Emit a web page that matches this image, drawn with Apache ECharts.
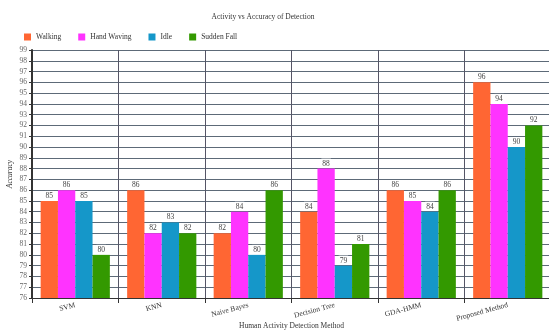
<!DOCTYPE html>
<html><head><meta charset="utf-8">
<script src="https://cdn.jsdelivr.net/npm/echarts@6/dist/echarts.min.js"></script>
<style>html,body{margin:0;padding:0;background:#fff}#c{width:549px;height:335px}</style>
</head><body><div id="c"></div>
<script>
const categories = ['SVM','KNN','Naive Bayes','Decision Tree','GDA-HMM','Proposed Method'];
const walking = [85,86,82,84,86,96];
const handWaving = [86,82,84,88,85,94];
const idle = [85,83,80,79,84,90];
const suddenFall = [80,82,86,81,86,92];
const seriesNames = ['Walking','Hand Waving','Idle','Sudden Fall'];
const colors = ['#ff6633','#ff33ff','#1597c9','#339900'];
const F = '"Liberation Serif", "DejaVu Serif", serif';
const chart = echarts.init(document.getElementById('c'));
const data = [walking, handWaving, idle, suddenFall];
chart.setOption({
  animation:false,
  title:{text:'Activity vs Accuracy of Detection',left:258,textAlign:'center',top:8,textStyle:{fontFamily:F,fontSize:7.5,fontWeight:'normal',color:'#333'}},
  legend:{left:19,top:28,itemWidth:7,itemHeight:7,itemGap:17,icon:'rect',textStyle:{fontFamily:F,fontSize:7.5,color:'#333'},data:seriesNames},
  grid:{left:32,right:-2,top:50,bottom:37,outerBoundsMode:'none'},
  xAxis:{type:'category',data:categories,name:'Human Activity Detection Method',nameLocation:'middle',nameGap:24,nameMoveOverlap:false,
    nameTextStyle:{fontFamily:F,fontSize:7.5,color:'#333'},
    axisLine:{lineStyle:{color:'#333'}},axisTick:{show:true,alignWithLabel:false,lineStyle:{color:'#333'}},
    splitLine:{show:true,lineStyle:{color:'#556'}},
    axisLabel:{rotate:15,fontFamily:F,fontSize:7.5,color:'#333',margin:7}},
  yAxis:{type:'value',min:76,max:99,interval:1,name:'Accuracy',nameLocation:'middle',nameGap:18,nameMoveOverlap:false,
    nameTextStyle:{fontFamily:F,fontSize:7.5,color:'#333',fontStyle:'italic'},
    axisLine:{show:true,lineStyle:{color:'#333',width:2}},axisTick:{show:true,length:3,lineStyle:{color:'#333'}},
    splitLine:{lineStyle:{color:'#5d6a78'}},
    axisLabel:{fontFamily:F,fontSize:7.5,color:'#666',margin:5}},
  series: data.map((d,i)=>({name:seriesNames[i],type:'bar',data:d,barGap:'0%',barCategoryGap:'20%',
    itemStyle:{color:colors[i]},
    label:{show:true,position:'top',distance:1,fontFamily:F,fontSize:7.5,color:'#444',backgroundColor:'#fff',padding:[1,1,0,1]}}))
});
</script></body></html>
